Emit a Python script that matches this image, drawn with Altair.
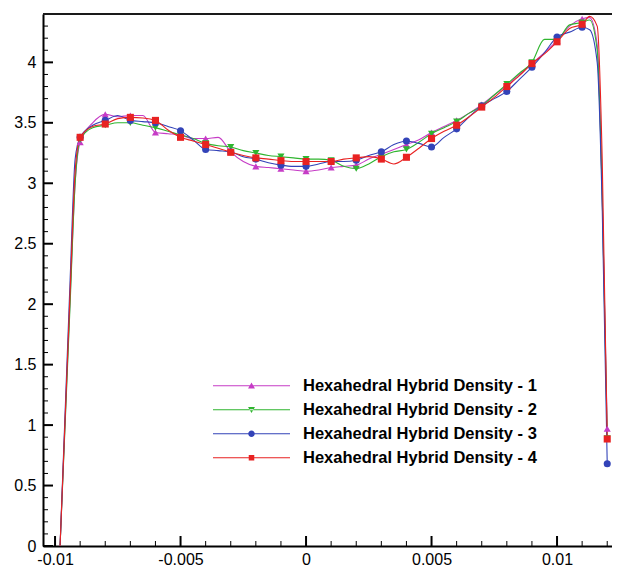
import altair as alt
import pandas as pd

series_names = [
    "Hexahedral Hybrid Density - 1",
    "Hexahedral Hybrid Density - 2",
    "Hexahedral Hybrid Density - 3",
    "Hexahedral Hybrid Density - 4",
]
series_colors = ["#c63cc6", "#2fb52f", "#3343b8", "#e82222"]
marker_shapes = ["triangle-up", "triangle-down", "circle", "square"]

x_line = [-0.0098, -0.0094, -0.0092, -0.009, -0.0085, -0.008, -0.0075, -0.007, -0.0065, -0.006,
          -0.0055, -0.005, -0.0045, -0.004, -0.0035, -0.003, -0.0025, -0.002, -0.0015, -0.001,
          -0.0005, 0.0, 0.0005, 0.001, 0.0015, 0.002, 0.0025, 0.003, 0.0035, 0.004,
          0.0045, 0.005, 0.0055, 0.006, 0.0065, 0.007, 0.0075, 0.008, 0.0085, 0.009,
          0.0095, 0.01, 0.0105, 0.011, 0.0113, 0.0116, 0.0118, 0.012]

y_hhd1 = [0, 2.05, 3.0, 3.34, 3.50, 3.57, 3.55, 3.56, 3.56, 3.42,
          3.41, 3.40, 3.37, 3.37, 3.38, 3.26, 3.18, 3.14, 3.13, 3.12,
          3.11, 3.10, 3.11, 3.13, 3.14, 3.15, 3.20, 3.24, 3.28, 3.32,
          3.36, 3.42, 3.47, 3.52, 3.58, 3.65, 3.73, 3.81, 3.90, 3.99,
          4.08, 4.18, 4.30, 4.36, 4.37, 4.15, 2.9, 0.97]
y_hhd2 = [0, 2.0, 3.0, 3.36, 3.46, 3.48, 3.50, 3.50, 3.48, 3.46,
          3.43, 3.40, 3.37, 3.33, 3.31, 3.30, 3.27, 3.25, 3.23, 3.22,
          3.21, 3.20, 3.20, 3.19, 3.14, 3.12, 3.16, 3.22, 3.26, 3.28,
          3.34, 3.41, 3.46, 3.51, 3.58, 3.64, 3.73, 3.82, 3.91, 4.00,
          4.19, 4.19, 4.31, 4.33, 4.35, 4.10, 2.9, 0.89]
y_hhd3 = [0, 2.2, 3.2, 3.38, 3.48, 3.52, 3.56, 3.52, 3.51, 3.50,
          3.47, 3.435, 3.36, 3.28, 3.27, 3.26, 3.22, 3.20, 3.17, 3.15,
          3.14, 3.14, 3.16, 3.18, 3.18, 3.19, 3.23, 3.26, 3.32, 3.35,
          3.33, 3.30, 3.38, 3.45, 3.55, 3.64, 3.70, 3.76, 3.86, 3.96,
          4.08, 4.21, 4.25, 4.29, 4.27, 4.0, 2.8, 0.68]
y_hhd4 = [0, 2.1, 3.1, 3.38, 3.47, 3.49, 3.535, 3.545, 3.54, 3.52,
          3.44, 3.38, 3.35, 3.32, 3.29, 3.256, 3.23, 3.21, 3.20, 3.187,
          3.18, 3.18, 3.18, 3.18, 3.20, 3.21, 3.22, 3.20, 3.16, 3.215,
          3.29, 3.37, 3.43, 3.48, 3.55, 3.63, 3.71, 3.80, 3.89, 3.99,
          4.07, 4.17, 4.28, 4.315, 4.38, 4.30, 3.2, 0.885]

x_marker = [-0.009, -0.008, -0.007, -0.006, -0.005, -0.004, -0.003, -0.002, -0.001, 0.0,
            0.001, 0.002, 0.003, 0.004, 0.005, 0.006, 0.007, 0.008, 0.009, 0.01,
            0.011, 0.012]

x_major_ticks = [-0.01, -0.005, 0.0, 0.005, 0.01]
x_minor_ticks = [-0.009, -0.008, -0.007, -0.006, -0.004, -0.003, -0.002, -0.001,
                 0.001, 0.002, 0.003, 0.004, 0.006, 0.007, 0.008, 0.009, 0.011, 0.012]
y_major_ticks = [0, 0.5, 1, 1.5, 2, 2.5, 3, 3.5, 4]
y_minor_ticks = [round(i * 0.1, 1) for i in range(1, 44) if i % 5]

# legend symbols: a line segment plus the marker (custom SVG paths)
legend_paths = [
    "M-1,-0.016L1,-0.016L1,0.016L-1,0.016Z M0,-0.085L0.09,0.07L-0.09,0.07Z",
    "M-1,-0.016L1,-0.016L1,0.016L-1,0.016Z M0,0.085L0.09,-0.07L-0.09,-0.07Z",
    "M-1,-0.016L1,-0.016L1,0.016L-1,0.016Z M0.085,0A0.085,0.085,0,1,1,-0.085,0A0.085,0.085,0,1,1,0.085,0Z",
    "M-1,-0.016L1,-0.016L1,0.016L-1,0.016Z M-0.072,-0.072L0.072,-0.072L0.072,0.072L-0.072,0.072Z",
]

W, H = 569, 532

all_y = [y_hhd1, y_hhd2, y_hhd3, y_hhd4]
line_rows = []
mark_rows = []
for name, ys in zip(series_names, all_y):
    lookup = {round(x, 5): y for x, y in zip(x_line, ys)}
    for x, y in zip(x_line, ys):
        line_rows.append({"x": x, "y": y, "series": name})
    for x in x_marker:
        mark_rows.append({"x": x, "y": lookup[round(x, 5)], "series": name})
df_line = pd.DataFrame(line_rows)
df_mark = pd.DataFrame(mark_rows)

x_scale = alt.Scale(domain=[-0.01048, 0.01219], nice=False, zero=False)
y_scale = alt.Scale(domain=[0, 4.4], nice=False, zero=False)
color_scale = alt.Scale(domain=series_names, range=series_colors)

x_axis = alt.Axis(values=x_major_ticks, labelExpr="toString(datum.value)", title=None,
                  ticks=False, grid=False, labelPadding=5, labelFlush=False,
                  labelOverlap=False, domain=True)
y_axis = alt.Axis(values=y_major_ticks, labelExpr="toString(datum.value)", title=None,
                  ticks=False, grid=False, labelPadding=7, labelOverlap=False,
                  domain=True)

lines = alt.Chart(df_line).mark_line(interpolate="monotone", strokeWidth=1.1).encode(
    x=alt.X("x:Q", scale=x_scale, axis=x_axis),
    y=alt.Y("y:Q", scale=y_scale, axis=y_axis),
    color=alt.Color("series:N", scale=color_scale, legend=None),
)

points = alt.Chart(df_mark).mark_point(filled=True, size=50, opacity=1).encode(
    x=alt.X("x:Q", scale=x_scale),
    y=alt.Y("y:Q", scale=y_scale),
    color=alt.Color("series:N", scale=color_scale, legend=None),
    shape=alt.Shape("series:N", scale=alt.Scale(domain=series_names, range=marker_shapes),
                    legend=None),
)

leg = alt.Legend(orient="none", legendX=170, legendY=360, title=None, padding=0,
                 offset=0, symbolSize=5929, symbolStrokeWidth=0, rowPadding=0,
                 clipHeight=23.5,
                 labelOffset=13, labelFont="Liberation Sans", labelFontWeight="bold",
                 labelFontSize=16.5, labelColor="black", labelLimit=500)

legend_layer = alt.Chart(df_mark).transform_filter("false").mark_point(
    filled=True, opacity=1).encode(
    x=alt.X("x:Q", scale=x_scale),
    y=alt.Y("y:Q", scale=y_scale),
    color=alt.Color("series:N", scale=color_scale, legend=leg),
    shape=alt.Shape("series:N", scale=alt.Scale(domain=series_names, range=legend_paths),
                    legend=leg),
)

xt_major = alt.Chart(pd.DataFrame({"x": x_major_ticks})).mark_rule(
    color="black", strokeWidth=2).encode(
    x=alt.X("x:Q", scale=x_scale), y=alt.value(H), y2=alt.value(H - 10))
xt_minor = alt.Chart(pd.DataFrame({"x": x_minor_ticks})).mark_rule(
    color="black", strokeWidth=1).encode(
    x=alt.X("x:Q", scale=x_scale), y=alt.value(H), y2=alt.value(H - 5))
yt_major = alt.Chart(pd.DataFrame({"y": y_major_ticks})).mark_rule(
    color="black", strokeWidth=2).encode(
    y=alt.Y("y:Q", scale=y_scale), x=alt.value(0), x2=alt.value(10))
yt_minor = alt.Chart(pd.DataFrame({"y": y_minor_ticks})).mark_rule(
    color="black", strokeWidth=1).encode(
    y=alt.Y("y:Q", scale=y_scale), x=alt.value(0), x2=alt.value(5))
top_border = alt.Chart(pd.DataFrame({"v": [0]})).mark_rule(
    color="#1a1a1a", strokeWidth=2).encode(
    y=alt.value(0), x=alt.value(0), x2=alt.value(W))

chart = alt.layer(
    lines, xt_minor, xt_major, yt_minor, yt_major, top_border, points, legend_layer
).resolve_scale(
    color="independent", shape="independent"
).properties(
    width=W, height=H,
    autosize=alt.AutoSizeParams(type="none"),
    padding={"left": 35, "top": 6, "right": 0, "bottom": 24},
    background="white",
).configure_view(
    stroke=None
).configure_axis(
    labelFont="Liberation Sans", labelFontSize=16, labelColor="black",
    domainColor="black", domainWidth=2,
)

chart.save("out.html", embed_options={"renderer": "svg", "actions": False})
